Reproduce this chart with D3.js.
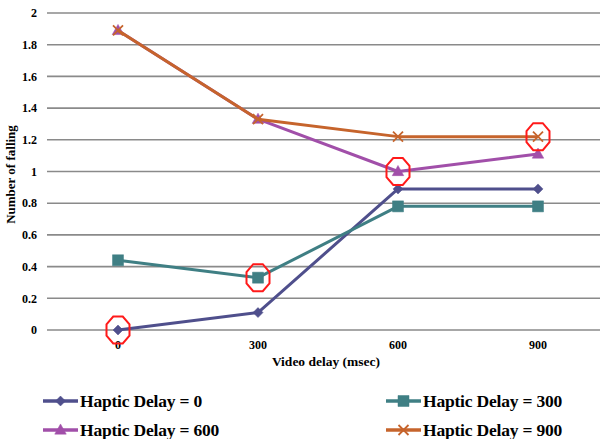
<!DOCTYPE html>
<html>
<head>
<meta charset="utf-8">
<script src="https://cdn.jsdelivr.net/npm/d3@7"></script>
<style>
  html, body { margin: 0; padding: 0; background: #fff; }
  svg { display: block; }
  text { font-family: "Liberation Serif", "DejaVu Serif", serif; fill: #000; }
</style>
</head>
<body>
<svg id="chart" width="600" height="439"></svg>
<script>
// Video delay categories (msec)
const categories = ["0", "300", "600", "900"];
// Mean number of fallings per haptic delay condition
const haptic0   = [0, 0.11, 0.89, 0.89];
const haptic300 = [0.44, 0.33, 0.78, 0.78];
const haptic600 = [1.89, 1.33, 1.0, 1.11];
const haptic900 = [1.89, 1.33, 1.22, 1.22];
const seriesNames = ["Haptic Delay = 0", "Haptic Delay = 300", "Haptic Delay = 600", "Haptic Delay = 900"];
const yTicks = [0, 0.2, 0.4, 0.6, 0.8, 1, 1.2, 1.4, 1.6, 1.8, 2];
// Highlighted points: [series index, category index]
const highlights = [[0, 0], [1, 1], [2, 2], [3, 3]];

const series = [
  { name: seriesNames[0], values: haptic0,   color: "#4f4f8c", symbol: "diamond" },
  { name: seriesNames[1], values: haptic300, color: "#3f7f84", symbol: "square" },
  { name: seriesNames[2], values: haptic600, color: "#a14fa9", symbol: "triangle" },
  { name: seriesNames[3], values: haptic900, color: "#c6642c", symbol: "cross" }
];

const svg = d3.select("#chart");
const plot = { left: 47, right: 600, top: 13, bottom: 330 };

const x = d3.scalePoint().domain(categories).range([118, 538]);
const y = d3.scaleLinear().domain([0, 2]).range([plot.bottom, plot.top]);

// Horizontal gridlines
svg.append("g").selectAll("line").data(yTicks).join("line")
  .attr("x1", plot.left).attr("x2", plot.right)
  .attr("y1", d => y(d)).attr("y2", d => y(d))
  .attr("stroke", "#8a8a8a").attr("stroke-width", 1.6);

// Y tick labels
svg.append("g").selectAll("text").data(yTicks).join("text")
  .attr("x", 37).attr("y", d => y(d)).attr("dy", "0.35em")
  .attr("text-anchor", "end")
  .attr("font-size", 12).attr("font-weight", "bold")
  .text(d => d3.format("~g")(d));

// X tick labels
svg.append("g").selectAll("text").data(categories).join("text")
  .attr("x", d => x(d)).attr("y", 349)
  .attr("text-anchor", "middle")
  .attr("font-size", 12).attr("font-weight", "bold")
  .text(d => d);

// Axis titles
svg.append("text").attr("x", 326).attr("y", 366)
  .attr("text-anchor", "middle").attr("font-size", 13.5).attr("font-weight", "bold")
  .text("Video delay (msec)");
svg.append("text")
  .attr("transform", `translate(15,${(plot.top + plot.bottom) / 2 + 3}) rotate(-90)`)
  .attr("text-anchor", "middle").attr("font-size", 13).attr("font-weight", "bold")
  .text("Number of falling");

function symbolPath(kind, size) {
  const s = size;
  if (kind === "diamond") return `M0,${-s}L${s},0L0,${s}L${-s},0Z`;
  if (kind === "square") return `M${-s},${-s}H${s}V${s}H${-s}Z`;
  if (kind === "triangle") return `M0,${-s * 1.1}L${s * 1.05},${s * 0.75}L${-s * 1.05},${s * 0.75}Z`;
  return `M${-s},${-s}L${s},${s}M${s},${-s}L${-s},${s}`;
}
function drawSymbol(g, kind, cx, cy, color, size) {
  const p = g.append("path")
    .attr("transform", `translate(${cx},${cy})`)
    .attr("d", symbolPath(kind, size));
  if (kind === "cross") p.attr("fill", "none").attr("stroke", color).attr("stroke-width", 1.8);
  else p.attr("fill", color).attr("stroke", color).attr("stroke-width", 0.5);
}
const symbolSize = { diamond: 5, square: 5.5, triangle: 5.5, cross: 5 };

const line = d3.line().x((d, i) => x(categories[i])).y(d => y(d));

series.forEach(s => {
  const g = svg.append("g");
  g.append("path").datum(s.values)
    .attr("d", line).attr("fill", "none")
    .attr("stroke", s.color).attr("stroke-width", 3)
    .attr("stroke-linejoin", "round");
  s.values.forEach((v, i) => drawSymbol(g, s.symbol, x(categories[i]), y(v), s.color, symbolSize[s.symbol]));
});

// Red octagons around highlighted points
const octagon = (rx, ry) => {
  const pts = [];
  for (let k = 0; k < 8; k++) {
    const a = Math.PI / 8 + k * Math.PI / 4;
    pts.push([rx * Math.cos(a) / Math.cos(Math.PI / 8), ry * Math.sin(a) / Math.cos(Math.PI / 8)]);
  }
  return "M" + pts.map(p => p.join(",")).join("L") + "Z";
};
svg.append("g").selectAll("path").data(highlights).join("path")
  .attr("transform", ([si, ci]) => `translate(${x(categories[ci])},${y(series[si].values[ci])})`)
  .attr("d", octagon(11.5, 13.5))
  .attr("fill", "none").attr("stroke", "#ff1a1a").attr("stroke-width", 2);

// Legend
const legendPos = [[43, 401], [386, 401], [43, 430], [386, 430]];
series.forEach((s, i) => {
  const [lx, ly] = legendPos[i];
  const g = svg.append("g");
  g.append("line").attr("x1", lx).attr("x2", lx + 35).attr("y1", ly).attr("y2", ly)
    .attr("stroke", s.color).attr("stroke-width", 3.5);
  drawSymbol(g, s.symbol, lx + 17.5, ly, s.color, symbolSize[s.symbol]);
  g.append("text").attr("x", lx + 37).attr("y", ly).attr("dy", "0.35em")
    .attr("font-size", 17.5).attr("font-weight", "bold")
    .attr("letter-spacing", -0.2)
    .text(s.name);
});
</script>
</body>
</html>
